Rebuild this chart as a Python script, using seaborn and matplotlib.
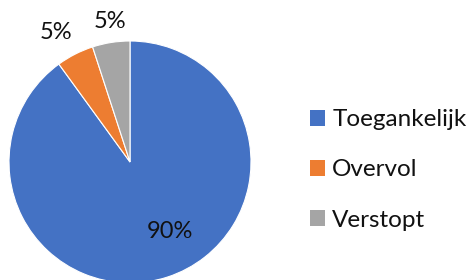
import matplotlib
matplotlib.use("Agg")
import matplotlib.pyplot as plt
import matplotlib.patches as mpatches
import seaborn as sns

categories = ["Toegankelijk", "Overvol", "Verstopt"]
values = [90, 5, 5]
pct_labels = ["90%", "5%", "5%"]
colors = ["#4472C4", "#ED7D31", "#A5A5A5"]

sns.set_theme(style="white")
plt.rcParams["font.family"] = ["Lato", "DejaVu Sans"]

W, H = 469, 280
fig = plt.figure(figsize=(W / 100, H / 100), dpi=100)
fig.patch.set_facecolor("white")

cx, cy, r = 130, 162, 121
ax = fig.add_axes([(cx - r) / W, (H - (cy + r)) / H, 2 * r / W, 2 * r / H])
wedges, _ = ax.pie(values, colors=colors, startangle=90, counterclock=False,
                   wedgeprops=dict(edgecolor="white", linewidth=0.8))
ax.set_xlim(-1, 1)
ax.set_ylim(-1, 1)
ax.set_aspect("equal")
ax.axis("off")

# label pixel positions (x, y from top)
label_px = [(170, 231), (56, 33), (110, 21)]
for lab, (px, py) in zip(pct_labels, label_px):
    ax.text((px - cx) / r, (cy - py) / r, lab, ha="center", va="center",
            fontsize=17, color="#111111", clip_on=False)

handles = [mpatches.Patch(facecolor=c, edgecolor="none") for c in colors]
leg = fig.legend(handles, categories, loc="center left",
                 bbox_to_anchor=(310 / W, 1 - 170 / H),
                 frameon=False, fontsize=17.5, handlelength=0.62,
                 handleheight=0.62, handletextpad=0.3, labelspacing=1.2,
                 borderpad=0, borderaxespad=0)
for t in leg.get_texts():
    t.set_color("#111111")

fig.savefig("out.png", dpi=100)
